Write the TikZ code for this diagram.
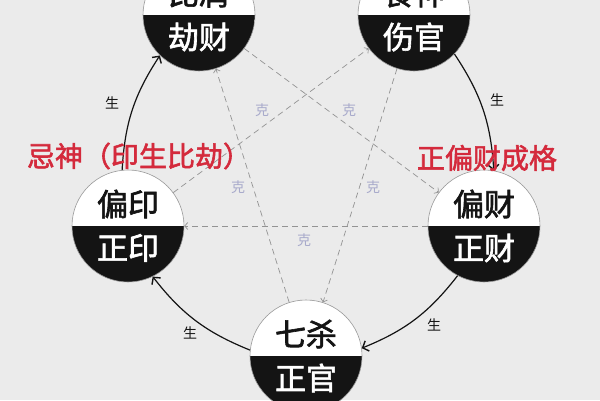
\documentclass[tikz,border=0pt]{standalone}
\usepackage{fontspec}
\setmainfont{Noto Sans CJK SC}
\newfontfamily\medfont{Noto Sans CJK SC}[FakeBold=2]
\usetikzlibrary{arrows.meta}
\definecolor{bg}{HTML}{EBEBEB}
\definecolor{redt}{HTML}{D42A3C}
\definecolor{kec}{HTML}{A8AACB}
\definecolor{ink}{HTML}{141414}
\begin{document}
\begin{tikzpicture}[x=1pt,y=1pt,
  god/.style={circle, draw=gray!80, line width=0.6pt, minimum size=112pt, inner sep=0pt, fill=white,
    path picture={\fill[ink] (path picture bounding box.west) rectangle (path picture bounding box.south east);}},
  toptext/.style={font=\medfont\fontsize{31}{31}\selectfont, text=ink, inner sep=0pt},
  bottext/.style={font=\medfont\fontsize{31}{31}\selectfont, text=white, inner sep=0pt},
  sheng/.style={draw=ink, line width=1.2pt, -{Straight Barb[length=5pt,width=11pt,line width=1.4pt]}, bend left=15},
  ke/.style={draw=gray!85, line width=0.7pt, dash pattern=on 6pt off 4pt, -{Straight Barb[length=3pt,width=7pt]}},
  shenglab/.style={font=\fontsize{14}{14}\selectfont, text=ink, inner sep=0pt},
  kelab/.style={font=\fontsize{14}{14}\selectfont, text=kec, inner sep=0pt},
  redlab/.style={text=redt, inner sep=0pt, font=\medfont\fontsize{28}{28}\selectfont}
]
\useasboundingbox (0,0) rectangle (600,400);
\fill[bg] (0,0) rectangle (600,400);
\clip (0,0) rectangle (600,400);

% circles
\node[god] (bi) at (199,385) {};
\node[god] (shi) at (414,385) {};
\node[god] (yin) at (128,174) {};
\node[god] (cai) at (484,174) {};
\node[god] (sha) at (306,44) {};

\node[toptext] (bi-t) at ([yshift=22]bi.center) {比肩};
\node[bottext] (bi-b) at ([yshift=-22]bi.center) {劫财};
\node[toptext] (shi-t) at ([yshift=22]shi.center) {食神};
\node[bottext] (shi-b) at ([yshift=-22]shi.center) {伤官};
\node[toptext] (yin-t) at ([yshift=22]yin.center) {偏印};
\node[bottext] (yin-b) at ([yshift=-22]yin.center) {正印};
\node[toptext] (cai-t) at ([yshift=22]cai.center) {偏财};
\node[bottext] (cai-b) at ([yshift=-22]cai.center) {正财};
\node[toptext] (sha-t) at ([yshift=22]sha.center) {七杀};
\node[bottext] (sha-b) at ([yshift=-22]sha.center) {正官};

% ke (dashed)
\draw[ke] (bi) -- (cai);
\draw[ke] (cai) -- (yin);
\draw[ke] (yin) -- (shi);
\draw[ke] (shi) -- (sha);
\draw[ke] (sha) -- (bi);

% sheng (solid curved)
\draw[sheng] (yin.96) to (bi.226);
\draw[sheng] (shi.-44) to (cai.80);
\draw[sheng] (cai.242) to (sha.8);
\draw[sheng] (sha.174) to (yin.-64);

% labels
\node[shenglab] (s1) at (112,297) {生};
\node[shenglab] (s2) at (497,300) {生};
\node[shenglab] (s3) at (434,75) {生};
\node[shenglab] (s4) at (190,67) {生};

\node[kelab] (k1) at (262,290) {克};
\node[kelab] (k2) at (349,290) {克};
\node[kelab] (k3) at (238,213) {克};
\node[kelab] (k4) at (373,213) {克};
\node[kelab] (k5) at (304,160) {克};

\node[redlab] (jishen) at (139,244) {忌神（印生比劫）};
\node[redlab] (gerju) at (487,242) {正偏财成格};
\end{tikzpicture}
\end{document}
